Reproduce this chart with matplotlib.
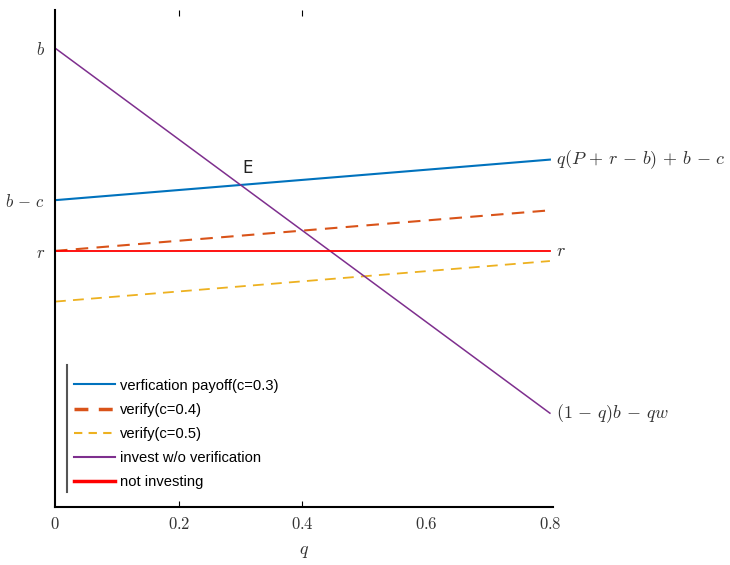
import matplotlib.pyplot as plt
from matplotlib.lines import Line2D

plt.rcParams['mathtext.fontset'] = 'cm'

# payoff lines, end points at q = 0 and q = 0.8 (units with b = 1)
q_vals = [0.0, 0.8]
verify_03 = [0.70, 0.78]
verify_04 = [0.60, 0.68]
verify_05 = [0.50, 0.58]
invest_no_verify = [1.00, 0.28]
not_investing = [0.60, 0.60]

series_labels = ['verfication payoff(c=0.3)', 'verify(c=0.4)', 'verify(c=0.5)',
                 'invest w/o verification', 'not investing']
colors = ['#0072BD', '#D95319', '#EDB120', '#7E2F8E', '#FF0000']

y_ticks = [0.6, 0.7, 1.0]
y_tick_labels = [r'$r$', r'$b\,-\,c$', r'$b$']
x_ticks = [0, 0.2, 0.4, 0.6, 0.8]
x_tick_labels = [r'$0$', r'$0.2$', r'$0.4$', r'$0.6$', r'$0.8$']

fig = plt.figure(figsize=(7.3, 5.65), dpi=100)
ax = fig.add_axes([55 / 730, 58 / 565, 498 / 730, 497 / 565])

ax.plot(q_vals, verify_03, color=colors[0], lw=1.5)
ax.plot(q_vals, verify_04, color=colors[1], lw=1.5, dashes=(6, 4))
ax.plot(q_vals, verify_05, color=colors[2], lw=1.3, dashes=(6, 4))
ax.plot(q_vals, invest_no_verify, color=colors[3], lw=1.1)
ax.plot(q_vals, not_investing, color=colors[4], lw=1.3)

ax.set_xlim(0, 0.805)
ax.set_ylim(0.095, 1.075)

ax.spines['top'].set_visible(False)
ax.spines['right'].set_visible(False)
ax.spines['left'].set_linewidth(1.5)
ax.spines['bottom'].set_linewidth(1.5)

ax.set_xticks(x_ticks)
ax.set_xticklabels(x_tick_labels, fontsize=12, color='#333333')
ax.tick_params(axis='x', direction='in', length=4, top=True, pad=6)
for i, t in enumerate(ax.xaxis.get_major_ticks()):
    if i not in (1, 2):
        t.tick1line.set_visible(False)
        t.tick2line.set_visible(False)

ax.set_yticks(y_ticks)
ax.set_yticklabels(y_tick_labels, fontsize=12, color='#333333')
ax.tick_params(axis='y', length=0, pad=7)

ax.set_xlabel(r'$q$', fontsize=13, color='#333333', labelpad=6)

# right-hand annotations
ax.text(0.81, verify_03[1], r'$q(P\,+\,r\,-\,b)\,+\,b\,-\,c$', fontsize=13,
        va='center', color='#333333')
ax.text(0.81, not_investing[1], r'$r$', fontsize=13, va='center', color='#333333')
ax.text(0.81, invest_no_verify[1], r'$(1\,-\,q)b\,-\,qw$', fontsize=13,
        va='center', color='#333333')
ax.text(0.312, 0.745, 'E', fontsize=12, ha='center', va='bottom', color='#222222')

handles = [Line2D([], [], color=colors[0], lw=1.5),
           Line2D([], [], color=colors[1], lw=2.5, dashes=(4, 3)),
           Line2D([], [], color=colors[2], lw=1.5, dashes=(4, 3)),
           Line2D([], [], color=colors[3], lw=1.5),
           Line2D([], [], color=colors[4], lw=2.5)]
ax.legend(handles, series_labels, loc='lower left', bbox_to_anchor=(0.026, 0.025),
          frameon=False, handlelength=2.8, handletextpad=0.35,
          labelspacing=0.68, borderaxespad=0,
          prop={'family': 'Liberation Sans', 'size': 10.6})
ax.plot([0.024, 0.024], [0.03, 0.286], transform=ax.transAxes, color='#555555', lw=1.5,
        clip_on=False)

fig.savefig('out.png', dpi=100)
